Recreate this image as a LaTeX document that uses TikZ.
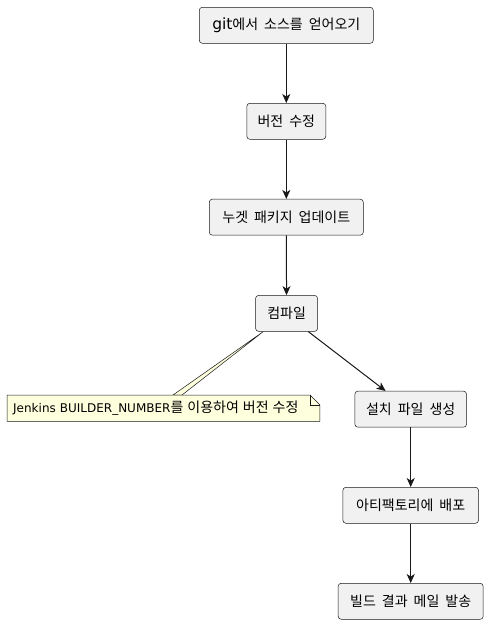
\documentclass[tikz,border=0pt]{standalone}
\usepackage{fontspec}
\setmainfont{DejaVu Sans}
\newfontfamily\krfont[WordSpace=1.9]{Noto Sans CJK KR}
\usepackage{xcolor}
\usepackage{tikz}
\usetikzlibrary{arrows.meta, positioning, calc}

\definecolor{boxfill}{HTML}{F1F1F1}
\definecolor{boxline}{HTML}{181818}
\definecolor{notefill}{HTML}{FEFFDD}

\pgfdeclarelayer{background}
\pgfsetlayers{background,main}

\begin{document}
\begin{tikzpicture}[x=1pt, y=-1pt,
    act/.style={draw=boxline, fill=boxfill, line width=0.5pt, rounded corners=3pt,
        minimum height=36pt, inner sep=0pt, font=\fontsize{14}{16}\selectfont\krfont},
    flow/.style={draw=boxline, line width=1pt, -{Stealth[length=9pt, width=8pt, inset=2.5pt]}},
    notebox/.style={draw=boxline, fill=notefill, line width=0.5pt}]
\useasboundingbox (0,0) rectangle (487,624);

% main column
\node[act, minimum width=174pt] (git) at (286.3,25.3) {{\fontsize{15.5}{16}\rmfamily git}에서 소스를 얻어오기};
\node[act, minimum width=79pt] (ver) at (286.3,121.3) {버전 수정};
\node[act, minimum width=154pt] (nuget) at (286.3,217.2) {누겟 패키지 업데이트};
\node[act, minimum width=62pt] (compile) at (286.6,313.4) {컴파일};

% second column
\node[act, minimum width=111.7pt] (setup) at (410.7,409.2) {설치 파일 생성};
\node[act, minimum width=135.6pt] (deploy) at (410.7,505.3) {아티팩토리에 배포};
\node[act, minimum width=145pt] (mail) at (410.7,601.3) {빌드 결과 메일 발송};

% note on compile
\node[anchor=north west, inner xsep=6pt, inner ysep=0pt, text width=300.5pt, minimum height=26pt,
    align=left, font=\fontsize{12}{15}\selectfont] (note) at (7,395)
    {Jenkins BUILDER\_NUMBER{\fontsize{14}{15}\krfont 를 이용하여 버전 수정}};
\begin{pgfonlayer}{background}
\draw[notebox] (compile.218) -- ($(note.north west)+(175pt,0pt)$) -- ($(note.north west)+(166pt,0pt)$) -- cycle;
\draw[notebox] (note.north west) -- ($(note.north east)+(-10pt,0pt)$) -- ($(note.north east)+(0pt,-10pt)$)
    -- (note.south east) -- (note.south west) -- cycle;
\end{pgfonlayer}
\draw[boxline, line width=0.5pt] ($(note.north east)+(-10pt,0pt)$) -- ++(0pt,-10pt) -- ($(note.north east)+(0pt,-10pt)$);

% arrows
\draw[flow] (git) -- (ver);
\draw[flow] (ver) -- (nuget);
\draw[flow] (nuget) -- (compile);
\draw[flow] (compile.-40) -- (setup.144);
\draw[flow] (setup) -- (deploy);
\draw[flow] (deploy) -- (mail);
\end{tikzpicture}
\end{document}
